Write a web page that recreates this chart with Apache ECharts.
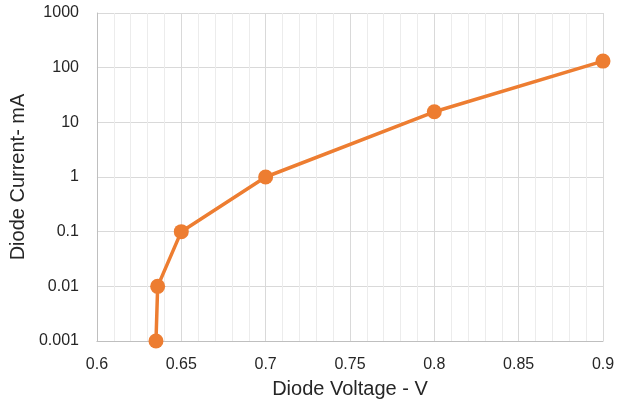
<!DOCTYPE html>
<html>
<head>
<meta charset="utf-8">
<script src="https://cdn.jsdelivr.net/npm/echarts@6/dist/echarts.min.js"></script>
<style>html,body{margin:0;padding:0;background:#fff}#c{width:629px;height:404px}</style>
</head>
<body>
<div id="c"></div>
<script>
const voltage = [0.635, 0.636, 0.65, 0.7, 0.8, 0.9];
const current = [0.001, 0.01, 0.1, 1, 15.6, 132];
const xTitle = 'Diode Voltage - V';
const yTitle = 'Diode Current- mA';

const chart = echarts.init(document.getElementById('c'), null, {renderer: 'canvas'});
const fontFam = '"Liberation Sans", Arial, sans-serif';
chart.setOption({
  animation: false,
  grid: {left: 96, right: 26, top: 13, bottom: 63, containLabel: false},
  xAxis: {
    type: 'value', min: 0.6, max: 0.9, interval: 0.05,
    name: xTitle, nameLocation: 'middle', nameGap: 38,
    nameTextStyle: {fontSize: 20, color: '#262626', fontFamily: fontFam},
    axisLine: {show: true, lineStyle: {color: '#bfbfbf', width: 1}},
    axisTick: {show: false},
    axisLabel: {fontSize: 16, color: '#262626', fontFamily: fontFam, margin: 16,
      formatter: v => String(Number(v.toFixed(4)))},
    splitLine: {show: true, lineStyle: {color: '#d9d9d9', width: 1}},
    minorTick: {show: false, splitNumber: 5},
    minorSplitLine: {show: true, lineStyle: {color: '#ececec', width: 1}}
  },
  yAxis: {
    type: 'log', logBase: 10, min: 0.001, max: 1000,
    name: yTitle, nameLocation: 'middle', nameGap: 63, nameRotate: 90,
    nameTextStyle: {fontSize: 20, color: '#262626', fontFamily: fontFam},
    axisLine: {show: true, lineStyle: {color: '#bfbfbf', width: 1}},
    axisTick: {show: false},
    axisLabel: {fontSize: 16, color: '#262626', fontFamily: fontFam, margin: 18,
      formatter: v => String(Number(Number(v).toPrecision(6)))},
    splitLine: {show: true, lineStyle: {color: '#d9d9d9', width: 1}}
  },
  series: [{
    type: 'line',
    data: voltage.map((v, i) => [v, current[i]]),
    lineStyle: {color: '#ED7D31', width: 3.5},
    itemStyle: {color: '#ED7D31'},
    symbol: 'circle', symbolSize: 15,
    showSymbol: true
  }]
});
</script>
</body>
</html>
